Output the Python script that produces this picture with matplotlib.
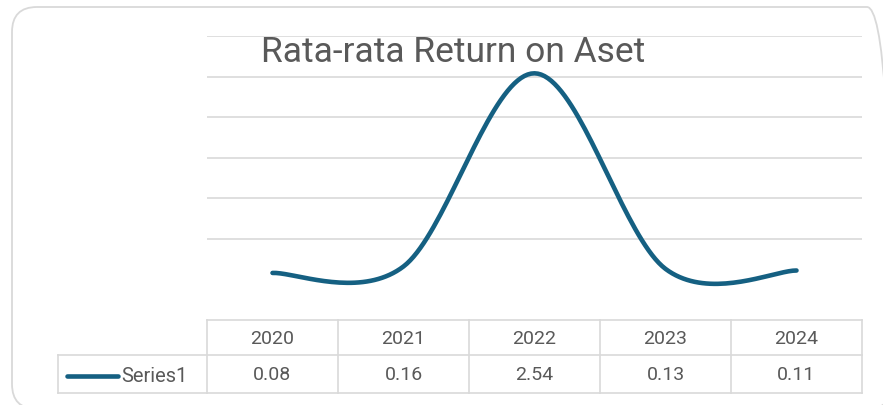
import numpy as np
import matplotlib
matplotlib.use("Agg")
import matplotlib.pyplot as plt
from matplotlib.lines import Line2D
from matplotlib.patches import FancyBboxPatch

years = ["2020", "2021", "2022", "2023", "2024"]
roa = [0.08, 0.16, 2.54, 0.13, 0.11]
series_name = "Series1"
title = "Rata-rata Return on Aset"

W, H = 883, 405
line_col = "#156082"
grid_col = "#D9D9D9"
text_col = "#595959"
plt.rcParams["font.family"] = ["Roboto", "DejaVu Sans"]


def fx(px):
    return px / W


def fy(py):
    return 1 - py / H


def smooth(xs, ys, n=40):
    # excel style bezier smoothing
    pts = np.column_stack([xs, ys]).astype(float)
    out = []
    for i in range(len(pts) - 1):
        p0 = pts[i]
        p3 = pts[i + 1]
        prev = pts[i - 1] if i > 0 else pts[i]
        nxt = pts[i + 2] if i + 2 < len(pts) else pts[i + 1]
        c1 = p0 + (p3 - prev) / 6
        c2 = p3 - (nxt - p0) / 6
        t = np.linspace(0, 1, n)[:, None]
        seg = (1 - t) ** 3 * p0 + 3 * (1 - t) ** 2 * t * c1 + 3 * (1 - t) * t ** 2 * c2 + t ** 3 * p3
        out.append(seg if i == 0 else seg[1:])
    out = np.vstack(out)
    return out[:, 0], out[:, 1]


fig = plt.figure(figsize=(W / 100, H / 100), dpi=100)

# outer chart border (runs off the right/bottom edge like the screenshot)
fig.add_artist(FancyBboxPatch((0.12, -0.04), 8.80, 4.02,
                              boxstyle="round,pad=0,rounding_size=0.25",
                              transform=fig.dpi_scale_trans, fc="none", ec=grid_col,
                              lw=1.3, zorder=-1))

left, right, top, bottom = 207, 862, 36, 320
ax = fig.add_axes([fx(left), fy(bottom), fx(right - left), (bottom - top) / H])
ax.set_xlim(-0.5, len(years) - 0.5)
ax.set_ylim(-0.5, 3.0)
ax.axis("off")

for g in np.arange(0.5, 3.01, 0.5):
    ax.axhline(g, color=grid_col, lw=1.2, zorder=1)

x = np.arange(len(years))
sx, sy = smooth(x, roa)
ax.plot(sx, sy, color=line_col, lw=3.3, solid_capstyle="round", zorder=3, clip_on=False)

fig.text(fx(453), fy(53), title, ha="center", va="center", fontsize=25.5, color=text_col)

# data table
col_edges = [207 + i * (right - left) / len(years) for i in range(len(years) + 1)]
r0, r1, r2 = 320, 355, 393
tab_left = 58


def hline(y, x0, x1):
    fig.add_artist(Line2D([fx(x0), fx(x1)], [fy(y), fy(y)], color=grid_col, lw=1.2))


def vline(xp, y0, y1):
    fig.add_artist(Line2D([fx(xp), fx(xp)], [fy(y0), fy(y1)], color=grid_col, lw=1.2))


hline(r0, col_edges[0], col_edges[-1])
hline(r1, tab_left, col_edges[-1])
hline(r2, tab_left, col_edges[-1])
vline(tab_left, r1, r2)
for e in col_edges:
    vline(e, r0, r2)

for i, (yr, v) in enumerate(zip(years, roa)):
    cx = (col_edges[i] + col_edges[i + 1]) / 2
    fig.text(fx(cx), fy((r0 + r1) / 2 + 1), yr, ha="center", va="center", fontsize=14, color=text_col)
    fig.text(fx(cx), fy((r1 + r2) / 2 + 1), f"{v:.2f}", ha="center", va="center", fontsize=14, color=text_col)

fig.add_artist(Line2D([fx(67), fx(118)], [fy(376), fy(376)], color=line_col, lw=3.3,
                      solid_capstyle="round"))
fig.text(fx(121), fy(376), series_name, ha="left", va="center", fontsize=14.5, color=text_col)

fig.savefig("out.png", dpi=100)
